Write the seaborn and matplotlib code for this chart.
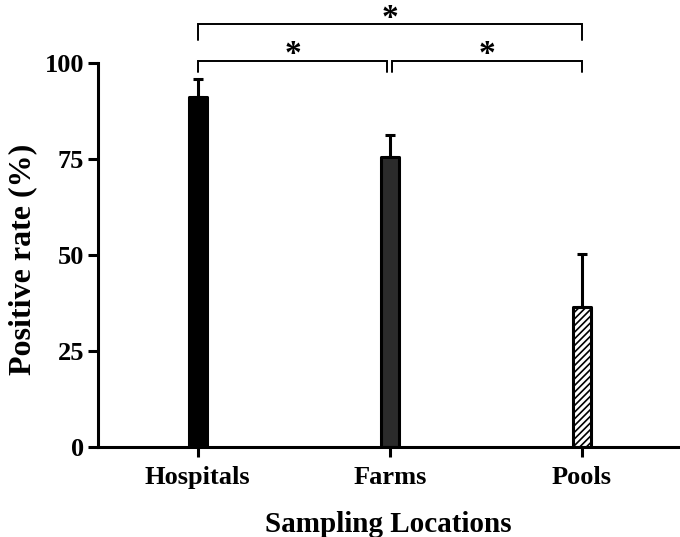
import matplotlib
matplotlib.use("Agg")
import matplotlib.pyplot as plt
import seaborn as sns
import pandas as pd

categories = ["Hospitals", "Farms", "Pools"]
values = [91.0, 75.5, 36.5]
errors = [4.7, 5.6, 13.8]
fill_colors = ["#000000", "#2b2b2b", "#ffffff"]
yticks = [0, 25, 50, 75, 100]
# significance brackets: (left index, right index, bracket height, tick bottom)
brackets = [(0, 2, 110.0, 106.0), (0, 1, 100.5, 97.5), (1, 2, 100.5, 97.5)]
sig_labels = ["*", "*", "*"]

sns.set_theme(style="ticks")
plt.rcParams["font.family"] = ["Liberation Serif", "DejaVu Serif"]
plt.rcParams["font.weight"] = "bold"
plt.rcParams["hatch.linewidth"] = 1.2
plt.rcParams["text.color"] = "black"
plt.rcParams["axes.labelcolor"] = "black"

df = pd.DataFrame({"loc": categories, "rate": values})

fig = plt.figure(figsize=(6.8, 5.37), dpi=100)
ax = fig.add_axes([0.144, 0.168, 0.853, 0.715])

sns.barplot(data=df, x="loc", y="rate", hue="loc", palette=fill_colors,
            width=0.094, errorbar=None, legend=False, ax=ax,
            edgecolor="black", linewidth=2.2)
for i, p in enumerate(ax.patches):
    p.set_joinstyle("round")
    if i == 2:
        p.set_hatch("/////")

xs = list(range(len(categories)))
ax.errorbar(xs, values, yerr=[[0] * len(values), errors], fmt="none",
            ecolor="black", elinewidth=2.2, capsize=3.6, capthick=2.2, zorder=1)

ax.set_xlim(-0.52, 2.5)
ax.set_ylim(0, 100)
ax.set_yticks(yticks)
ax.set_yticklabels([str(t) for t in yticks], fontsize=19, fontweight="bold", color="black")
ax.set_xticks(xs)
ax.set_xticklabels(categories, fontsize=19, fontweight="bold", color="black")
ax.set_xlabel("Sampling Locations", fontsize=21, fontweight="bold", color="black")
ax.set_ylabel("Positive rate (%)", fontsize=23, fontweight="bold", color="black")
ax.xaxis.set_label_coords(0.5, -0.167)
ax.yaxis.set_label_coords(-0.105, 0.487)

for s in ["top", "right"]:
    ax.spines[s].set_visible(False)
for s in ["left", "bottom"]:
    ax.spines[s].set_linewidth(2.2)
    ax.spines[s].set_color("black")
ax.tick_params(axis="both", width=2.2, length=7, direction="out", colors="black")
ax.tick_params(axis="x", pad=6.6)
ax.tick_params(axis="y", pad=3)

offsets = {(0, 1): (0.0, -0.013), (1, 2): (0.013, 0.0), (0, 2): (0.0, 0.0)}
for (a, b, h, lo), lab in zip(brackets, sig_labels):
    da, db = offsets[(a, b)]
    xa, xb = a + da, b + db
    ax.plot([xa, xa, xb, xb], [lo, h, h, lo], color="black", lw=1.4,
            clip_on=False, solid_joinstyle="miter")
    ax.text((xa + xb) / 2, h - 0.6, lab, ha="center", va="baseline",
            fontsize=24, fontweight="bold", clip_on=False, color="black")

fig.savefig("out.png", dpi=100)
